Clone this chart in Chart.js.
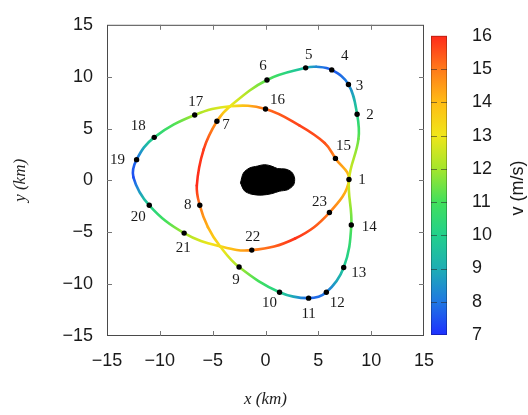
<!DOCTYPE html>
<html>
<head>
<meta charset="utf-8">
<script src="https://cdn.jsdelivr.net/npm/chart.js@4"></script>
<style>
  html, body { margin: 0; padding: 0; background: #fff; }
  #wrap { position: relative; width: 528px; height: 415px; }
  #orbitChart { position: absolute; left: 0; top: 0; }
  #barChart { position: absolute; left: 424px; top: 0; }
</style>
</head>
<body>
<div id="wrap">
  <canvas id="orbitChart" width="528" height="415"></canvas>
  <canvas id="barChart" width="104" height="415"></canvas>
</div>
<script>
// first loop: points 1..14 (starts at the crossing on the right), null = unlabelled waypoint
const loopAx = [7.9, 8.8, 8.67, 7.85, 6.27, 4.8, 3.8, 0.14, -3.35, -4.6, -5.85, -6.5, -6.22, -5.45, -4.3, -2.5, 1.33, 4.08, 5.76, 7.4, 8.12];
const loopAy = [0.08, 4.0, 6.38, 9.25, 10.65, 10.95, 10.85, 9.68, 7.15, 5.7, 3.0, -0.5, -2.4, -4.5, -6.35, -8.35, -10.78, -11.35, -10.78, -8.4, -4.3];
const loopAv = [12.8, 11.4, 10.0, 8.2, 7.5, 8.3, 9.3, 11.2, 13.0, 14.6, 15.8, 16.0, 15.0, 14.2, 13.2, 12.0, 10.0, 7.7, 8.0, 9.7, 11.2];
const loopAnum = [1, null, 2, 3, 4, null, 5, 6, null, 7, null, null, 8, null, null, 9, 10, 11, 12, 13, 14];

// second loop: points 15..23, closes through the same crossing as point 1
const loopBx = [7.9, 6.62, 5.6, 3.2, 0.0, -3.35, -6.7, -10.53, -12.2, -12.5, -11.0, -7.7, -4.3, -1.3, 2.8, 6.05];
const loopBy = [0.08, 2.12, 3.6, 5.3, 6.88, 7.15, 6.3, 4.15, 2.0, 0.3, -2.4, -5.08, -6.35, -6.72, -5.6, -3.1];
const loopBv = [13.8, 14.8, 15.5, 15.7, 15.2, 13.0, 12.0, 10.2, 7.8, 7.4, 10.0, 12.0, 13.4, 14.8, 15.9, 15.0];
const loopBnum = [null, 15, null, null, 16, null, 17, 18, 19, null, 20, 21, null, 22, null, 23];

// asteroid outline (km)
const rockX = [-2.37, -2.09, -1.52, -0.76, -0.09, 0.57, 1.14, 1.9, 2.47, 2.75, 2.66, 2.09, 1.33, 0.57, -0.38, -1.33, -2.0];
const rockY = [-0.24, 0.71, 1.19, 1.38, 1.52, 1.38, 1.14, 1.09, 0.81, 0.24, -0.43, -0.9, -1.04, -1.28, -1.42, -1.33, -1.0];

const axisTicks = [-15, -10, -5, 0, 5, 10, 15];
const vTicks = [7, 8, 9, 10, 11, 12, 13, 14, 15, 16];
const barColors = ['#1e30ff', '#1f78e2', '#1eaeb4', '#22d08c', '#42e05c', '#a4e62c', '#f0e61a', '#ffbc14', '#ff7a1a', '#ff2a1a'];

// where each number sits relative to its dot (px), index = number - 1
const labelDx = [13, 13, 11, 13, 3, -4, 9, -12, -3, -10, 0, 11, 15, 18, 8, 12, 1, -16, -19, -11, -1, 1, -10];
const labelDy = [0, 1, 2, -14, -13, -14, 4, 0, 13, 11, 16, 11, 6, 2, -12, -9, -13, -11, 0, 12, 15, -13, -10];

function hexRgb(h) {
    return [1, 3, 5].map(i => parseInt(h.substr(i, 2), 16));
}

function colorAt(v) {
    let i = 0;
    while (i < vTicks.length - 2 && v > vTicks[i + 1]) i++;
    let f = (v - vTicks[i]) / (vTicks[i + 1] - vTicks[i]);
    f = Math.max(0, Math.min(1, f));
    const a = hexRgb(barColors[i]), b = hexRgb(barColors[i + 1]);
    const c = a.map((ai, k) => Math.round(ai + (b[k] - ai) * f));
    return 'rgb(' + c.join(',') + ')';
}

// wrap the loop (last point before, first two after) so the spline closes smoothly
function loopDataset(xs, ys, vs, nums) {
    const n = xs.length;
    const order = [n - 1];
    for (let i = 0; i < n; i++) order.push(i);
    order.push(0, 1);
    const pts = order.map((i, k) => ({
        x: xs[i], y: ys[i], v: vs[i],
        num: (k >= 1 && k <= n) ? nums[i] : null
    }));
    const last = pts.length - 1;
    return {
        isOrbit: true,
        data: pts,
        showLine: true,
        tension: 0.4,
        borderWidth: 2.6,
        borderCapStyle: 'round',
        borderJoinStyle: 'round',
        pointRadius: c => pts[c.dataIndex] && pts[c.dataIndex].num ? 2.7 : 0,
        pointHoverRadius: 0,
        pointBackgroundColor: '#000',
        pointBorderWidth: 0,
        segment: {
            borderColor: c => {
                if (c.p0DataIndex === 0 || c.p1DataIndex === last) return 'rgba(0,0,0,0)';
                const v0 = pts[c.p0DataIndex].v, v1 = pts[c.p1DataIndex].v;
                if (![c.p0.x, c.p0.y, c.p1.x, c.p1.y].every(isFinite)) return colorAt(v0);
                const g = c.chart.ctx.createLinearGradient(c.p0.x, c.p0.y, c.p1.x + 0.01, c.p1.y + 0.01);
                for (let s = 0; s <= 4; s++) {
                    g.addColorStop(s / 4, colorAt(v0 + (v1 - v0) * s / 4));
                }
                return g;
            }
        }
    };
}

const rockPts = rockX.map((x, i) => ({ x: x, y: rockY[i] }));
rockPts.push(rockPts[0]);

const tickFont = { family: '"Liberation Sans", Arial, sans-serif', size: 18 };
const titleFont = { family: '"Liberation Serif", "Times New Roman", serif', size: 17, style: 'italic' };
const fmt = v => (v < 0 ? '\u2212' + Math.abs(v) : String(v));

const numberLabels = {
    id: 'numberLabels',
    afterDatasetsDraw(chart) {
        const c = chart.ctx;
        c.save();
        c.font = '15px "Liberation Serif", "Times New Roman", serif';
        c.fillStyle = '#1a1a1a';
        c.textAlign = 'center';
        c.textBaseline = 'middle';
        chart.data.datasets.forEach((ds, di) => {
            if (!ds.isOrbit) return;
            chart.getDatasetMeta(di).data.forEach((pt, i) => {
                const num = ds.data[i].num;
                if (!num) return;
                c.fillText(String(num), pt.x + labelDx[num - 1], pt.y + labelDy[num - 1]);
            });
        });
        c.restore();
    }
};

const frameTicks = {
    id: 'frameTicks',
    afterDraw(chart) {
        const c = chart.ctx;
        const a = chart.chartArea;
        const xs = chart.scales.x, ys = chart.scales.y;
        c.save();
        c.strokeStyle = '#4a4a4a';
        c.lineWidth = 1;
        c.strokeRect(a.left + 0.5, a.top + 0.5, a.right - a.left - 1, a.bottom - a.top - 1);
        c.strokeStyle = '#777';
        c.beginPath();
        axisTicks.slice(1, -1).forEach(v => {
            const px = Math.round(xs.getPixelForValue(v)) + 0.5;
            c.moveTo(px, a.bottom); c.lineTo(px, a.bottom - 5);
            c.moveTo(px, a.top); c.lineTo(px, a.top + 5);
            const py = Math.round(ys.getPixelForValue(v)) + 0.5;
            c.moveTo(a.left, py); c.lineTo(a.left + 5, py);
            c.moveTo(a.right, py); c.lineTo(a.right - 5, py);
        });
        c.stroke();
        c.restore();
    }
};

new Chart(document.getElementById('orbitChart'), {
    type: 'scatter',
    data: {
        datasets: [
            {
                data: rockPts,
                showLine: true,
                tension: 0.3,
                fill: 'shape',
                backgroundColor: '#000',
                borderColor: '#000',
                borderWidth: 1,
                pointRadius: 0
            },
            loopDataset(loopAx, loopAy, loopAv, loopAnum),
            loopDataset(loopBx, loopBy, loopBv, loopBnum)
        ]
    },
    options: {
        responsive: false,
        animation: false,
        events: [],
        layout: { autoPadding: false, padding: { left: 0, top: 19, right: 104, bottom: 0 } },
        plugins: { legend: { display: false }, tooltip: { enabled: false } },
        scales: {
            x: {
                type: 'linear', min: -15, max: 15,
                afterBuildTicks: s => { s.ticks = axisTicks.map(v => ({ value: v })); },
                afterFit: s => { s.height = 79; },
                ticks: { font: tickFont, color: '#1a1a1a', padding: 14, callback: fmt },
                grid: { display: false, drawTicks: false },
                border: { display: false },
                title: { display: true, text: 'x (km)', font: titleFont, color: '#222', padding: { top: 0, bottom: 5 } }
            },
            y: {
                type: 'linear', min: -15, max: 15,
                afterBuildTicks: s => { s.ticks = axisTicks.map(v => ({ value: v })); },
                afterFit: s => { s.width = 107; },
                ticks: { font: tickFont, color: '#1a1a1a', padding: 14, callback: fmt },
                grid: { display: false, drawTicks: false },
                border: { display: false },
                title: { display: true, text: 'y (km)', font: titleFont, color: '#222', padding: { top: 10, bottom: 0 } }
            }
        }
    },
    plugins: [numberLabels, frameTicks]
});

// colour bar
function barGradient(ctx) {
    const chart = ctx.chart;
    const a = chart.chartArea;
    if (!a || !isFinite(a.top) || !isFinite(a.bottom)) return barColors[0];
    const g = chart.ctx.createLinearGradient(0, a.bottom, 0, a.top);
    vTicks.forEach((v, i) => g.addColorStop(i / (vTicks.length - 1), barColors[i]));
    return g;
}

const barDecor = {
    id: 'barDecor',
    afterDatasetsDraw(chart) {
        const c = chart.ctx;
        const a = chart.chartArea;
        const y = chart.scales.y;
        c.save();
        c.strokeStyle = 'rgba(40,40,40,0.55)';
        c.lineWidth = 1;
        c.beginPath();
        vTicks.slice(1, -1).forEach(v => {
            const py = Math.round(y.getPixelForValue(v)) + 0.5;
            c.moveTo(a.left, py); c.lineTo(a.left + 6, py);
            c.moveTo(a.right, py); c.lineTo(a.right - 6, py);
        });
        c.stroke();
        c.strokeStyle = 'rgba(0,0,0,0.25)';
        c.strokeRect(a.left + 0.5, a.top + 0.5, a.right - a.left - 1, a.bottom - a.top - 1);
        c.translate(94, 188);
        c.rotate(-Math.PI / 2);
        c.font = '18px "Liberation Sans", Arial, sans-serif';
        c.fillStyle = '#1a1a1a';
        c.textAlign = 'center';
        c.textBaseline = 'middle';
        c.fillText('v (m/s)', 0, 0);
        c.restore();
    }
};

new Chart(document.getElementById('barChart'), {
    type: 'bar',
    data: {
        labels: ['v'],
        datasets: [{
            data: [[vTicks[0], vTicks[vTicks.length - 1]]],
            backgroundColor: barGradient,
            borderWidth: 0,
            barPercentage: 1,
            categoryPercentage: 1
        }]
    },
    options: {
        responsive: false,
        animation: false,
        events: [],
        layout: { autoPadding: false, padding: { left: 7, top: 19, right: 0, bottom: 80 } },
        plugins: { legend: { display: false }, tooltip: { enabled: false } },
        scales: {
            x: { display: false },
            y: {
                position: 'right', min: vTicks[0], max: vTicks[vTicks.length - 1],
                afterBuildTicks: s => { s.ticks = vTicks.map(v => ({ value: v })); },
                afterFit: s => { s.width = 81; },
                ticks: { font: tickFont, color: '#1a1a1a', padding: 25 },
                grid: { display: false, drawTicks: false },
                border: { display: false }
            }
        }
    },
    plugins: [barDecor]
});
</script>
</body>
</html>
